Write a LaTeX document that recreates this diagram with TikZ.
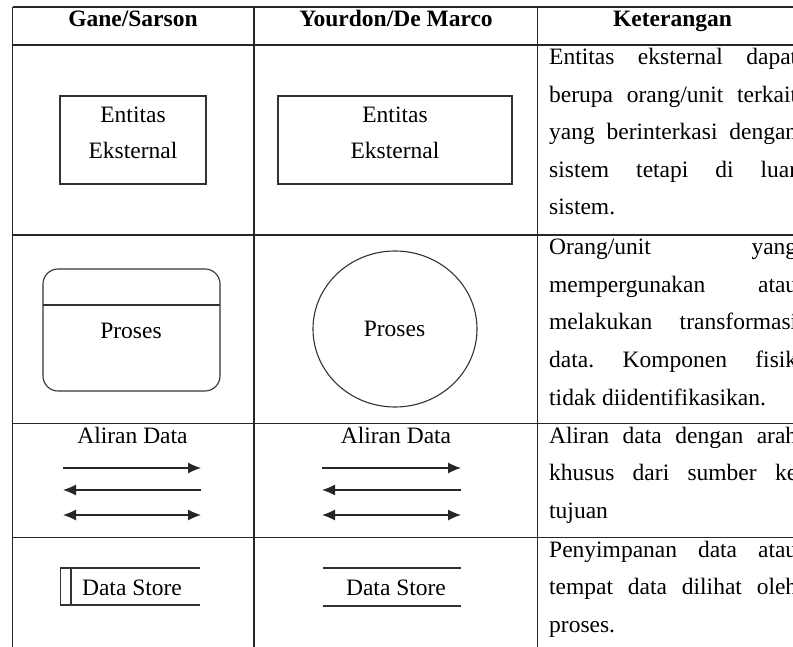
\documentclass[tikz,border=0pt]{standalone}
\usepackage{fontspec}
\setmainfont{Liberation Serif}
\usetikzlibrary{arrows.meta,shapes.geometric}
\frenchspacing
\newcommand{\jline}[1]{\makebox[248pt][s]{#1}}
\begin{document}
\begin{tikzpicture}[x=1pt,y=-1pt,
  grid/.style={line width=1.3pt, draw=black!85},
  shp/.style={draw=black!80, line width=1.1pt},
  txt/.style={font=\fontsize{23.5}{36}\selectfont, inner sep=0pt, anchor=base},
  hdr/.style={font=\fontsize{23.5}{28}\selectfont\bfseries, inner sep=0pt, anchor=base},
  desc/.style={font=\fontsize{23.5}{36}\selectfont, inner sep=0pt, anchor=base west},
  flow/.style={line width=1.1pt, draw=black!85, -{Latex[length=13pt,width=11pt]}},
  bflow/.style={line width=1.1pt, draw=black!85, {Latex[length=13pt,width=11pt]}-{Latex[length=13pt,width=11pt]}},
]
\useasboundingbox (0,0) rectangle (793,647);
\clip (0,0) rectangle (793,647);
\fill[white] (0,0) rectangle (793,647);

% table grid
\draw[grid] (12.7,7) -- (815,7);
\draw[grid] (12.7,45) -- (815,45);
\draw[grid] (12.7,235) -- (815,235);
\draw[grid] (12.7,423.5) -- (815,423.5);
\draw[grid] (12.7,537.7) -- (815,537.7);
\draw[grid] (12.7,7) -- (12.7,660);
\draw[grid] (254,7) -- (254,660);
\draw[grid] (537.3,7) -- (537.3,660);

% headers
\node[hdr] (h1) at (133,27) {Gane/Sarson};
\node[hdr] (h2) at (396,27) {Yourdon/De Marco};
\node[hdr] (h3) at (672.5,27) {Keterangan};

% row 1: external entity
\node[shp, minimum width=146, minimum height=88, inner sep=0] (ge) at (133,140) {};
\node[txt] (ge1) at (133,123) {Entitas};
\node[txt] (ge2) at (133,159) {Eksternal};
\node[shp, minimum width=234, minimum height=88, inner sep=0] (ye) at (395,140) {};
\node[txt] (ye1) at (395,123) {Entitas};
\node[txt] (ye2) at (395,159) {Eksternal};

% row 2: process
\node[shp, rounded corners=15, minimum width=177, minimum height=122, inner sep=0] (gp) at (131.5,330) {};
\coordinate (gpl) at (43,305);
\coordinate (gpr) at (220,305);
\draw[shp] (gpl) -- (gpr);
\node[txt] (gpt) at (131,338) {Proses};
\node[shp, ellipse, minimum width=164, minimum height=156, inner sep=0] (yp) at (395,329) {};
\node[txt] (ypt) at (394.5,337) {Proses};

% row 3: data flow
\node[txt] (gat) at (132.5,443) {Aliran Data};
\coordinate (ga1) at (63,468);  \coordinate (gb1) at (201,468);
\coordinate (ga2) at (63,490);  \coordinate (gb2) at (201,490);
\coordinate (ga3) at (63,515);  \coordinate (gb3) at (201,515);
\draw[flow] (ga1) -- (gb1);
\draw[flow] (gb2) -- (ga2);
\draw[bflow] (ga3) -- (gb3);
\node[txt] (yat) at (396,443) {Aliran Data};
\coordinate (ya1) at (322,468);  \coordinate (yb1) at (461,468);
\coordinate (ya2) at (322,490);  \coordinate (yb2) at (461,490);
\coordinate (ya3) at (322,515);  \coordinate (yb3) at (461,515);
\draw[flow] (ya1) -- (yb1);
\draw[flow] (yb2) -- (ya2);
\draw[bflow] (ya3) -- (yb3);

% row 4: data store
\coordinate (gs1) at (200,568); \coordinate (gs2) at (60.7,568);
\coordinate (gs3) at (60.7,606); \coordinate (gs4) at (60.7,605);
\coordinate (gs5) at (200,605); \coordinate (gs6) at (71,568);
\coordinate (gs7) at (71,606);
\draw[shp] (gs1) -- (gs2) -- (gs3);
\draw[shp] (gs4) -- (gs5);
\draw[shp] (gs6) -- (gs7);
\node[txt] (gst) at (132,595) {Data Store};
\coordinate (ys1) at (322.7,568); \coordinate (ys2) at (461,568);
\coordinate (ys3) at (322.7,606); \coordinate (ys4) at (461,606);
\draw[shp] (ys1) -- (ys2);
\draw[shp] (ys3) -- (ys4);
\node[txt] (yst) at (396,595) {Data Store};

% descriptions
\node[desc] (d11) at (549,65) {\jline{Entitas eksternal dapat}};
\node[desc] (d12) at (549,102.5) {\jline{berupa orang/unit terkait}};
\node[desc] (d13) at (549,140) {\jline{yang berinterkasi dengan}};
\node[desc] (d14) at (549,177.5) {\jline{sistem tetapi di luar}};
\node[desc] (d15) at (549,215) {sistem.};

\node[desc] (d21) at (549,255) {\jline{Orang/unit yang}};
\node[desc] (d22) at (549,292.5) {\jline{mempergunakan atau}};
\node[desc] (d23) at (549,330) {\jline{melakukan transformasi}};
\node[desc] (d24) at (549,367.5) {\jline{data. Komponen fisik}};
\node[desc] (d25) at (549,405) {tidak diidentifikasikan.};

\node[desc] (d31) at (549,443) {\jline{Aliran data dengan arah}};
\node[desc] (d32) at (549,480.5) {\jline{khusus dari sumber ke}};
\node[desc] (d33) at (549,518) {tujuan};

\node[desc] (d41) at (549,557) {\jline{Penyimpanan data atau}};
\node[desc] (d42) at (549,594.5) {\jline{tempat data dilihat oleh}};
\node[desc] (d43) at (549,632) {proses.};
\end{tikzpicture}
\end{document}
